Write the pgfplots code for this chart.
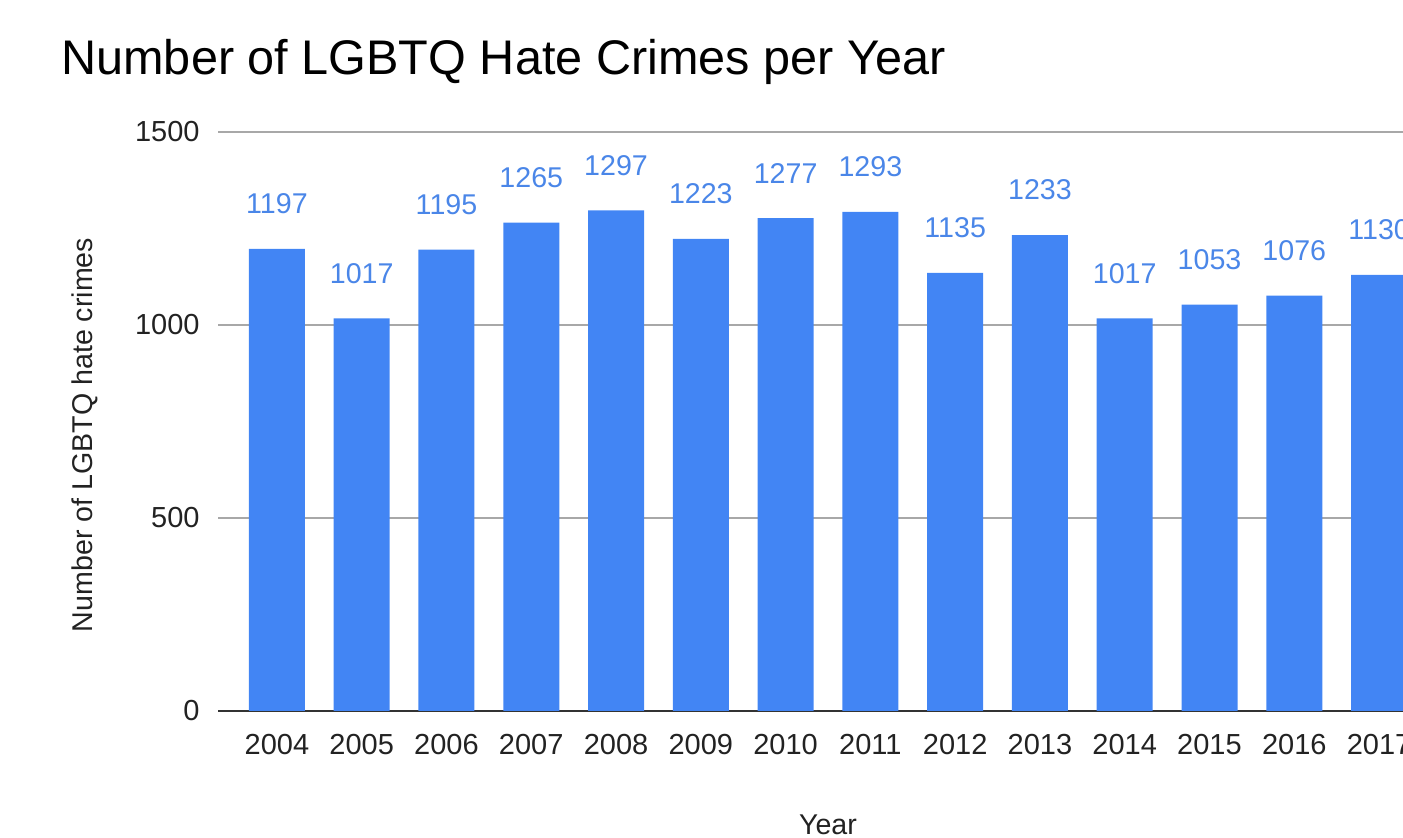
\documentclass[border=0pt]{standalone}
\usepackage{pgfplots}
\pgfplotsset{compat=1.18}
\usepackage{fontspec}
\setmainfont{Liberation Sans}
\definecolor{barblue}{HTML}{4285F4}
\definecolor{lblblue}{HTML}{4A86E8}
\definecolor{gridgray}{HTML}{A8A8A8}
\definecolor{axisdark}{HTML}{333333}
\definecolor{txt}{HTML}{222222}
\begin{document}
\begin{tikzpicture}
\useasboundingbox (-109pt,-63.5pt) rectangle (592.5pt,355.5pt);
\clip (-109pt,-63.5pt) rectangle (592.5pt,355.5pt);
\begin{axis}[
  at={(0,0)}, anchor=south west, scale only axis,
  width=610pt, height=289.5pt,
  xmin=2003.305, xmax=2017.695, ymin=0, ymax=1500,
  ybar, bar width=28pt,
  xtick={2004,2005,...,2017},
  ytick={0,500,1000,1500},
  /pgf/number format/1000 sep={},
  /pgf/number format/assume math mode=true,
  axis x line*=bottom,
  axis y line*=left,
  x axis line style={draw=axisdark, line width=1pt},
  y axis line style={draw=none},
  major tick length=0pt,
  ymajorgrids, grid style={draw=gridgray, line width=0.8pt},
  tick label style={font=\fontsize{14.5}{14.5}\selectfont, text=txt},
  xticklabel style={anchor=base, yshift=-22pt},
  yticklabel style={anchor=east, inner sep=0pt, xshift=-9pt},
  nodes near coords,
  nodes near coords style={font=\fontsize{14.3}{14.3}\selectfont, text=lblblue, anchor=center, yshift=22.5pt, /pgf/number format/1000 sep={}},
  clip=false,
]
\addplot[fill=barblue, draw=none] coordinates {
  (2004,1197) (2005,1017) (2006,1195) (2007,1265) (2008,1297)
  (2009,1223) (2010,1277) (2011,1293) (2012,1135) (2013,1233)
  (2014,1017) (2015,1053) (2016,1076) (2017,1130)
};
\end{axis}
\node[anchor=base west, inner sep=0pt, font=\fontsize{24.3}{24.3}\selectfont, text=black] at (-78.5pt,318pt) {Number of LGBTQ Hate Crimes per Year};
\node[rotate=90, inner sep=0pt, font=\fontsize{14.3}{14.3}\selectfont, text=txt] at (-66.5pt,138pt) {Number of LGBTQ hate crimes};
\node[anchor=base, inner sep=0pt, font=\fontsize{14.3}{14.3}\selectfont, text=txt] at (305pt,-62pt) {Year};
\end{tikzpicture}
\end{document}
